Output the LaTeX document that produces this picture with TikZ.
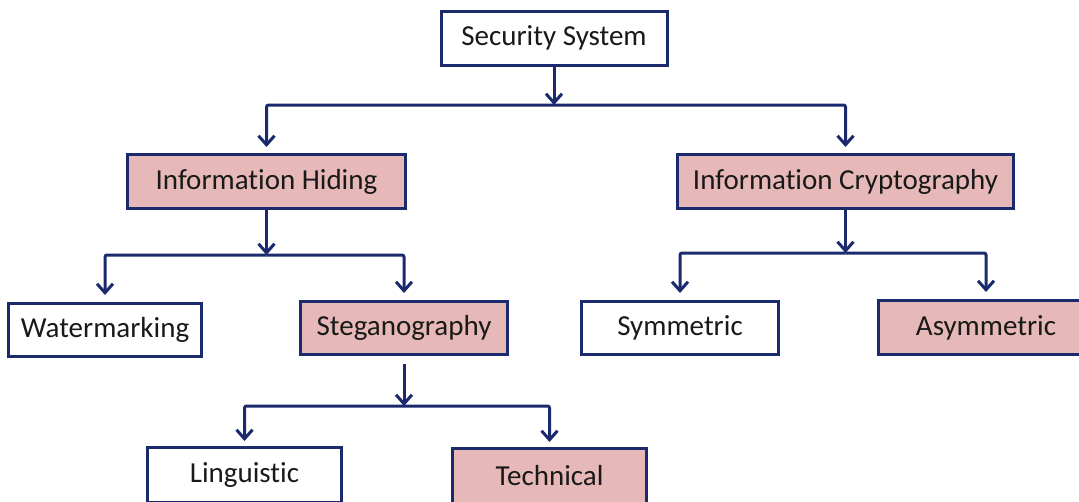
\documentclass[tikz,border=0pt]{standalone}
\usepackage{fontspec}
\setmainfont{Carlito}[Ligatures=CommonOff]
\usetikzlibrary{positioning,arrows.meta}
\definecolor{navy}{HTML}{1A2A6C}
\definecolor{rosefill}{HTML}{E6B9B8}

\begin{document}
\begin{tikzpicture}
 		[x=1pt, y=-1pt, font=\fontsize{29}{33}\selectfont,
 		every node/.style={rectangle, draw=navy, line width=3pt,
 			align=center, inner sep=0pt, text=black!90},
 		plain/.style={fill=white},
 		shaded/.style={fill=rosefill},
 		link/.style={draw=navy, line width=3pt, rounded corners=2pt,
 			-{Straight Barb[length=9pt,width=16pt]}},
 		]
 		\useasboundingbox (0,0) rectangle (1079,501);
 		% root
 		\node[plain, minimum width=226pt, minimum height=54pt] (sec) at (554,38) {Security System};
 		% level 1
 		\node[shaded, minimum width=278pt, minimum height=54pt] (hid) at (266.5,181.5) {Information Hiding};
 		\node[shaded, minimum width=336pt, minimum height=54pt] (cry) at (845.5,181.5) {Information Cryptography};
 		% level 2
 		\node[plain, minimum width=193pt, minimum height=53pt] (water) at (105,330) {Watermarking};
 		\node[shaded, minimum width=207pt, minimum height=53pt] (steg) at (404,328) {Steganography};
 		\node[plain, minimum width=197pt, minimum height=53pt] (sym) at (680,328) {Symmetric};
 		\node[shaded, minimum width=215pt, minimum height=54pt] (asym) at (986,327.5) {Asymmetric};
 		% level 3
 		\node[plain, minimum width=194pt, minimum height=55pt] (ling) at (244.5,475) {Linguistic};
 		\node[shaded, minimum width=194pt, minimum height=55pt] (tech) at (549.5,476) {Technical};
 		
 		% junctions
 		\coordinate (barA) at (554,105);
 		\coordinate (barB) at (266.5,255);
 		\coordinate (barC) at (845.5,253);
 		\coordinate (barD) at (404,406);
 		
 		\draw[link] (sec) -- (barA);
 		\draw[link, shorten >=6pt] (barA) -| (hid);
 		\draw[link, shorten >=6pt] (barA) -| (cry);
 		
 		\draw[link] (hid) -- (barB);
 		\draw[link, shorten >=7pt] (barB) -| (water);
 		\draw[link, shorten >=7pt] (barB) -| (steg);
 		
 		\draw[link] (cry) -- (barC);
 		\draw[link, shorten >=7pt] (barC) -| (sym);
 		\draw[link, shorten >=7pt] (barC) -| (asym);
 		
 		\draw[link, shorten <=8pt] (steg) -- (barD);
 		\draw[link, shorten >=5pt] (barD) -| (ling);
 		\draw[link, shorten >=5pt] (barD) -| (tech);
 	\end{tikzpicture}
\end{document}
